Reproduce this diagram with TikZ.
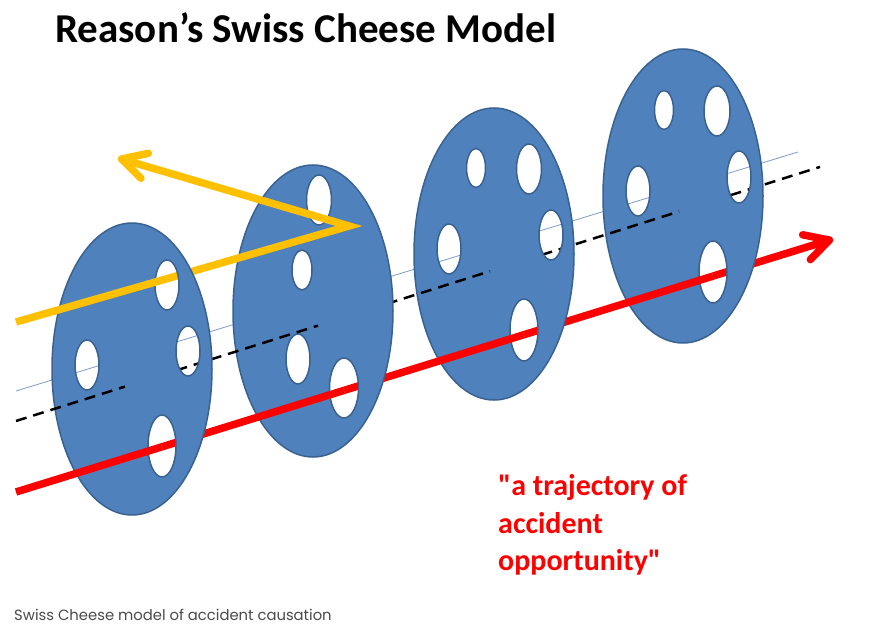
\documentclass[tikz,border=0pt]{standalone}
\usepackage{fontspec}
\setmainfont{Carlito}
\newfontfamily\capfont{Poppins}
\newfontfamily\quotefont{Carlito}[Ligatures=Common]
\usetikzlibrary{arrows.meta}
\definecolor{cheese}{HTML}{4F81BD}
\definecolor{cheeseedge}{HTML}{3A6291}
\definecolor{thinline}{HTML}{7E9CCB}
\definecolor{ray}{HTML}{FFC000}
\definecolor{hazard}{HTML}{FF0000}
\definecolor{capgray}{HTML}{4A4A4A}
\tikzset{
  sliceedge/.style={draw=cheeseedge, line width=1.5pt},
  redray/.style={draw=hazard, line width=7.5pt},
  yellowray/.style={draw=ray, line width=7.5pt, line join=miter},
  dashray/.style={draw=black, line width=2.5pt, dash pattern=on 11pt off 7pt},
  thinray/.style={draw=thinline, line width=0.8pt},
  barbtip/.style={-{Straight Barb[length=24pt,width=26pt,round]}},
  quotetext/.style={anchor=base west, inner sep=0, text=hazard, font=\quotefont\bfseries\fontsize{30}{37}\selectfont},
}
\newcommand\cheeseslice[4]{%
  \fill[cheese, even odd rule] (#1,#2) ellipse [x radius=80, y radius=#3]
    \foreach \hx/\hy/\ha/\hb in {#4} { (\hx,\hy) ellipse [x radius=\ha, y radius=\hb] };
  \draw[sliceedge] (#1,#2) ellipse [x radius=80, y radius=#3]
    \foreach \hx/\hy/\ha/\hb in {#4} { (\hx,\hy) ellipse [x radius=\ha, y radius=\hb] };
}
\begin{document}
\begin{tikzpicture}[x=1pt,y=-1pt]
\useasboundingbox (0,0) rectangle (887,636);
\fill[white] (0,0) rectangle (887,636);
% key points
\coordinate (t0) at (16,391);
\coordinate (t1) at (798,152);
\coordinate (d0) at (16,421);
\coordinate (d1) at (125,386.6);
\coordinate (d2) at (318,325.6);
\coordinate (d3) at (490,271.2);
\coordinate (d4) at (679,211.5);
\coordinate (d5) at (820,166.9);
\coordinate (r0) at (16,492);
\coordinate (r1) at (162,446.8);
\coordinate (r2) at (344,390.4);
\coordinate (r3) at (524,334.7);
\coordinate (r4) at (713,276.1);
\coordinate (r5) at (833,239);
\coordinate (y0) at (16,322);
\coordinate (y1) at (167,278.7);
\coordinate (y2) at (349,226);
\coordinate (y3) at (118,158);
% thin line behind everything
\draw[thinray] (t0) -- (t1);
% behind slice 4
\draw[dashray] (d4) -- (d5);
\draw[redray, barbtip] (r4) -- (r5);
\cheeseslice{683}{196}{147}{664/110/9.5/19.5, 717/111/13/25, 739/177/12/26, 638/191/12/25, 713/272/14/31}
\draw[dashray] (d3) -- (d4);
\draw[redray] (r3) -- (r4);
\cheeseslice{494}{254}{146}{476/168/9.5/19.5, 529/169/12.5/25, 551/235/12/25, 449/249/12/25, 524/330/14/31}
\draw[dashray] (d2) -- (d3);
\draw[redray] (r2) -- (r3);
\cheeseslice{313}{311}{146}{319/200/12.5/25, 302/270/10/20, 298/359/12/25, 344/388/14.5/30}
\draw[dashray] (d1) -- (d2);
\draw[redray] (r1) -- (r2);
\draw[yellowray, barbtip] (y1) -- (y2) -- (y3);
\cheeseslice{132}{369}{146}{167/285/12/25, 188/351/12/25, 87/365/12/25, 162/446/14/31}
\draw[dashray] (d0) -- (d1);
\draw[redray] (r0) -- (r1);
\draw[yellowray] (y0) -- (y1);
% texts
\node[anchor=base west, inner sep=0, font=\bfseries\fontsize{41}{49}\selectfont] (title) at (55,43) {Reason’s Swiss Cheese Model};
\node[quotetext] (q1) at (498,495) {"a trajectory of};
\node[quotetext] (q2) at (498,533) {accident};
\node[quotetext] (q3) at (498,570) {opportunity"};
\node[anchor=base west, inner sep=0, text=capgray, font=\capfont\fontsize{14.8}{18}\selectfont] (caption) at (14,620) {Swiss Cheese model of accident causation};
\end{tikzpicture}
\end{document}
